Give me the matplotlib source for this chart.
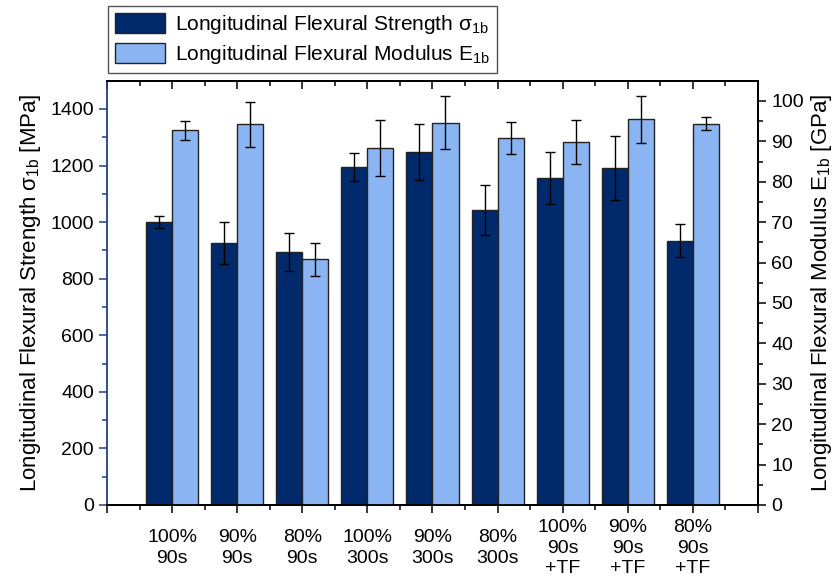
import matplotlib
matplotlib.use('Agg')
import matplotlib.pyplot as plt
import numpy as np
from matplotlib.patches import Patch

plt.rcParams['font.family'] = ['Liberation Sans', 'DejaVu Sans']
plt.rcParams['mathtext.fontset'] = 'custom'
plt.rcParams['mathtext.rm'] = 'Liberation Sans'
plt.rcParams['mathtext.it'] = 'Liberation Sans'
plt.rcParams['mathtext.default'] = 'regular'

labels = ['100%\n90s', '90%\n90s', '80%\n90s', '100%\n300s', '90%\n300s',
          '80%\n300s', '100%\n90s\n+TF', '90%\n90s\n+TF', '80%\n90s\n+TF']
strength = [1000, 926, 894, 1195, 1248, 1044, 1157, 1191, 935]
strength_err = [22, 73, 67, 48, 100, 88, 92, 113, 60]
modulus = [92.7, 94.2, 60.8, 88.4, 94.6, 90.8, 89.8, 95.5, 94.4]
modulus_err = [2.4, 5.5, 4.1, 6.9, 6.6, 4.0, 5.5, 5.8, 1.5]

dark = '#002A6B'
light = '#8AB5F2'
navy_axis = '#1F3F8A'

fig = plt.figure(figsize=(8.37, 5.83), dpi=100)
ax = fig.add_axes([0.1278, 0.1338, 0.9056 - 0.1278, 0.8616 - 0.1338])
ax2 = ax.twinx()

x = np.arange(1, len(labels) + 1)
w = 0.4
ax.bar(x - w / 2, strength, w, color=dark, edgecolor='#222222', linewidth=1.0)
ax.errorbar(x - w / 2, strength, yerr=strength_err, fmt='none', ecolor='black',
            elinewidth=1.0, capsize=3.3, capthick=1.0)
ax2.bar(x + w / 2, modulus, w, color=light, edgecolor='#222222', linewidth=1.0)
ax2.errorbar(x + w / 2, modulus, yerr=modulus_err, fmt='none', ecolor='black',
             elinewidth=1.0, capsize=3.3, capthick=1.0)

ax.set_xlim(0, 10)
ax.set_ylim(0, 1500)
ax2.set_ylim(0, 105)

ax.set_xticks(np.arange(0, 11))
ax.set_xticklabels([''] + labels + [''])
ax.set_xticks(np.arange(0.5, 10, 1), minor=True)
ax.set_yticks(np.arange(0, 1401, 200))
ax.set_yticks(np.arange(100, 1500, 200), minor=True)
ax2.set_yticks(np.arange(0, 101, 10))
ax2.set_yticks(np.arange(5, 105, 10), minor=True)

ax.tick_params(axis='both', which='major', direction='out', length=6, width=1.1,
               labelsize=14)
ax.tick_params(axis='both', which='minor', direction='out', length=3.5, width=1.1)
ax.tick_params(axis='y', which='both', color=navy_axis)
ax.tick_params(axis='x', which='major', pad=25)
for t in ax.get_xticklabels():
    t.set_verticalalignment('center')
    t.set_linespacing(1.25)
ax2.tick_params(axis='y', which='major', direction='out', length=6, width=1.1,
                labelsize=14)
ax2.tick_params(axis='y', which='minor', direction='out', length=3.5, width=1.1)

top = ax.secondary_xaxis('top')
top.set_xticks(np.arange(0, 11))
top.set_xticks(np.arange(0.5, 10, 1), minor=True)
top.tick_params(which='major', direction='in', length=6, width=1.1, labeltop=False)
top.tick_params(which='minor', direction='in', length=3.5, width=1.1)
top.set_xticklabels([])

for s in ['top', 'bottom', 'right']:
    ax.spines[s].set_linewidth(1.3)
    ax2.spines[s].set_linewidth(1.3)
top.spines['top'].set_linewidth(1.3)
ax2.spines['left'].set_visible(False)
ax.spines['left'].set_color(navy_axis)
ax.spines['left'].set_linewidth(1.3)

ax.set_ylabel('Longitudinal Flexural Strength σ$_{1b}$ [MPa]', fontsize=16, labelpad=5)
ax2.set_ylabel('Longitudinal Flexural Modulus E$_{1b}$ [GPa]', fontsize=16, labelpad=4)

handles = [Patch(facecolor=dark, edgecolor='#222222'),
           Patch(facecolor=light, edgecolor='#222222')]
fig.legend(handles, ['Longitudinal Flexural Strength σ$_{1b}$',
                     'Longitudinal Flexural Modulus E$_{1b}$'],
           loc='upper left', bbox_to_anchor=(108 / 837, 1 - 6 / 583),
           borderaxespad=0, fontsize=15, fancybox=False, edgecolor='#555555',
           framealpha=1, handlelength=2.4, handleheight=1.1, handletextpad=0.45,
           labelspacing=0.3, borderpad=0.35)

fig.savefig('out.png', dpi=100)
